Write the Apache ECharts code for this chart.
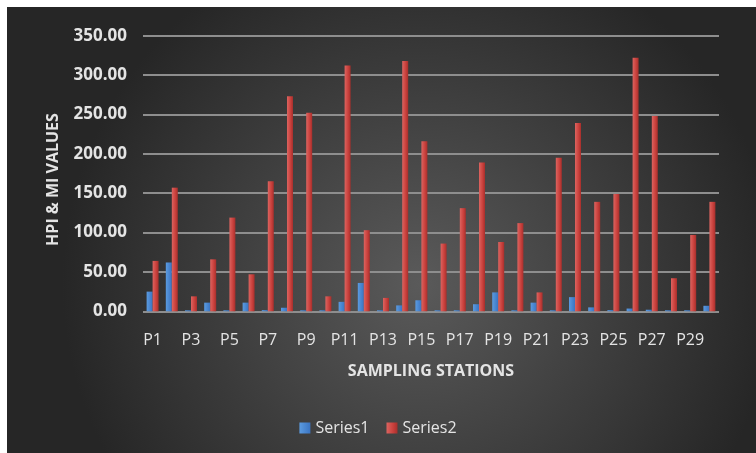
<!DOCTYPE html>
<html>
<head>
<meta charset="utf-8">
<script src="https://cdn.jsdelivr.net/npm/echarts@6/dist/echarts.min.js"></script>
<style>
  html, body { margin: 0; padding: 0; background: #ffffff; }
  #chart { width: 756px; height: 453px; }
</style>
</head>
<body>
<div id="chart"></div>
<script>
// Sampling stations P1..P30
const stations = Array.from({ length: 30 }, (_, i) => 'P' + (i + 1));

// HPI values per station
const series1 = [25, 62, 0.5, 11, 1, 11, 1.5, 4.5, 0.5, 0.5, 12, 36, 0.5, 7.5, 14,
                 1, 0.5, 9, 24, 0.5, 11, 0.5, 18, 5, 1.5, 3.5, 2, 0.5, 0.5, 7];

// MI values per station
const series2 = [64, 157, 19, 66, 119, 47, 165, 273, 252, 19, 312, 103, 17, 318, 216,
                 86, 131, 189, 88, 112, 24, 195, 239, 139, 149, 322, 248, 42, 97, 139];

const yTicks = { min: 0, max: 350, step: 50 };

const textColor = '#e4e4e4';
const fontFamily = '"Open Sans", "Liberation Sans", sans-serif';

const chart = echarts.init(document.getElementById('chart'), null, { renderer: 'canvas' });

chart.setOption({
  animation: false,
  backgroundColor: '#ffffff',
  graphic: [{
    type: 'rect',
    z: -10,
    silent: true,
    shape: { x: 7, y: 7, width: 749, height: 446 },
    style: {
      fill: new echarts.graphic.RadialGradient(0.55, 0.62, 0.8, [
        { offset: 0, color: '#5a5a5a' },
        { offset: 1, color: '#262626' }
      ])
    }
  }],
  grid: { left: 143, right: 37, top: 35.7, bottom: 141.7, containLabel: false },
  legend: {
    data: ['Series1', 'Series2'],
    left: 'center',
    top: 415,
    itemWidth: 11,
    itemHeight: 11,
    itemGap: 17,
    icon: 'rect',
    textStyle: { color: textColor, fontSize: 16, fontFamily: fontFamily }
  },
  xAxis: {
    type: 'category',
    data: stations,
    name: 'SAMPLING STATIONS',
    nameLocation: 'middle',
    nameGap: 52,
    nameTextStyle: { color: textColor, fontSize: 16, fontWeight: 'bold', fontFamily: fontFamily },
    axisLine: { show: false },
    axisTick: { show: false },
    axisLabel: {
      interval: 1,
      color: textColor,
      fontSize: 16,
      fontFamily: fontFamily,
      margin: 21
    }
  },
  yAxis: {
    type: 'value',
    min: yTicks.min,
    max: yTicks.max,
    interval: yTicks.step,
    name: 'HPI & MI VALUES',
    nameLocation: 'middle',
    nameGap: 82,
    nameRotate: 90,
    nameTextStyle: { color: textColor, fontSize: 16, fontWeight: 'bold', fontFamily: fontFamily, padding: [0, 12, 0, 0] },
    axisLine: { show: false },
    axisTick: { show: false },
    axisLabel: {
      color: textColor,
      fontSize: 17,
      fontWeight: 'bold',
      fontFamily: fontFamily,
      margin: 16,
      padding: [8, 0, 0, 0],
      formatter: v => v.toFixed(2)
    },
    splitLine: { lineStyle: { color: '#8e8e8e', width: 2 } }
  },
  series: [
    {
      name: 'Series1',
      type: 'bar',
      data: series1,
      barWidth: 6,
      barGap: '0%',
      barMinHeight: 1,
      itemStyle: {
        color: new echarts.graphic.LinearGradient(0, 0, 1, 0, [
          { offset: 0, color: '#5b9be0' },
          { offset: 1, color: '#3a74c2' }
        ])
      }
    },
    {
      name: 'Series2',
      type: 'bar',
      data: series2,
      barWidth: 6,
      itemStyle: {
        color: new echarts.graphic.LinearGradient(0, 0, 1, 0, [
          { offset: 0, color: '#dc6460' },
          { offset: 0.6, color: '#c9403c' },
          { offset: 1, color: '#a62f2c' }
        ])
      }
    }
  ]
});
</script>
</body>
</html>
